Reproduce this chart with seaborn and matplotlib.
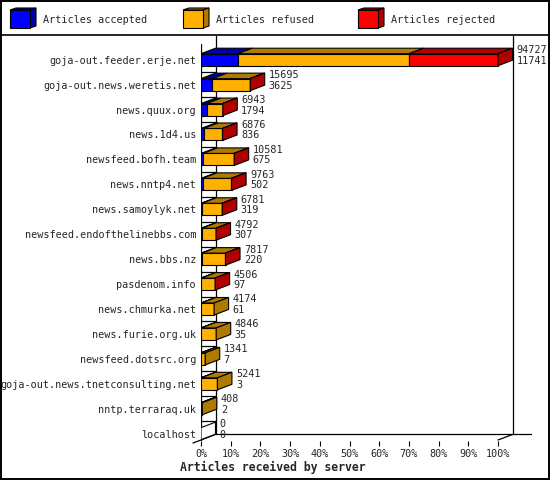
import matplotlib
matplotlib.use("Agg")
import matplotlib.pyplot as plt
from matplotlib.patches import Polygon, Rectangle
from matplotlib.lines import Line2D
import numpy as np
import pandas as pd
import seaborn as sns

# ---------------- data ----------------
servers = [
    "goja-out.feeder.erje.net", "goja-out.news.weretis.net", "news.quux.org",
    "news.1d4.us", "newsfeed.bofh.team", "news.nntp4.net", "news.samoylyk.net",
    "newsfeed.endofthelinebbs.com", "news.bbs.nz", "pasdenom.info",
    "news.chmurka.net", "news.furie.org.uk", "newsfeed.dotsrc.org",
    "goja-out.news.tnetconsulting.net", "nntp.terraraq.uk", "localhost",
]
totals = [94727, 15695, 6943, 6876, 10581, 9763, 6781, 4792, 7817, 4506,
          4174, 4846, 1341, 5241, 408, 0]
accepted = [11741, 3625, 1794, 836, 675, 502, 319, 307, 220, 97,
            61, 35, 7, 3, 2, 0]
refused = [54600, 11950, 5089, 5995, 9826, 9191, 6422, 4450, 7547, 4379,
           4113, 4811, 1334, 5238, 406, 0]
rejected = [28386, 120, 60, 45, 80, 70, 40, 35, 50, 30,
            0, 0, 0, 0, 0, 0]
series_names = ["Articles accepted", "Articles refused", "Articles rejected"]
xtick_labels = ["0%", "10%", "20%", "30%", "40%", "50%", "60%", "70%", "80%", "90%", "100%"]

# ---------------- style ----------------
front_cols = ["#0000FF", "#FFB000", "#FF0000"]
dark_cols = ["#0000A8", "#B07A00", "#B00000"]
MONO = "DejaVu Sans Mono"
FS = 7.3

sns.set_style("white")
plt.rcParams["font.family"] = [MONO, "DejaVu Sans"]

W, Hh = 550, 480
fig = plt.figure(figsize=(W / 100, Hh / 100), dpi=100)
fig.patch.set_facecolor("white")

# axes geometry in pixels
AX_L, AX_R, AX_T, AX_B = 201, 532, 36, 441
ax = fig.add_axes([AX_L / W, 1 - AX_B / Hh, (AX_R - AX_L) / W, (AX_B - AX_T) / Hh])
ax.set_facecolor("none")

PXX = 2.97      # pixels per percent
ROW0 = 59.7     # pixel y of first row
PXY = 24.93     # pixels per row
DX = 14.5 / PXX
DY = -5.5 / PXY
BH = 12 / PXY

maxtot = max(totals)
df = pd.DataFrame({
    "server": servers,
    "acc": np.array(accepted) / maxtot * 100,
    "ref": np.array(refused) / maxtot * 100,
    "rej": np.array(rejected) / maxtot * 100,
})
df["server"] = pd.Categorical(df["server"], categories=servers, ordered=True)

lefts = [np.zeros(len(df)), df["acc"].values, (df["acc"] + df["ref"]).values]
cols = ["acc", "ref", "rej"]
for k, c in enumerate(cols):
    sns.barplot(data=df, y="server", x=c, orient="h", left=lefts[k],
                color=front_cols[k], width=BH, edgecolor="black",
                linewidth=0.8, errorbar=None, ax=ax, zorder=3, saturation=1)

# top faces and side faces
for i in range(len(df)):
    yt = i - BH / 2
    yb = i + BH / 2
    x0 = 0.0
    last = None
    for k, c in enumerate(cols):
        w = df[c].iloc[i]
        x1 = x0 + w
        if w > 0:
            ax.add_patch(Polygon([(x0, yt), (x1, yt), (x1 + DX, yt + DY), (x0 + DX, yt + DY)],
                                 closed=True, facecolor=dark_cols[k], edgecolor="black",
                                 linewidth=0.8, zorder=3))
            last = k
        x0 = x1
    side_col = dark_cols[last] if last is not None else "white"
    ax.add_patch(Polygon([(x0, yt), (x0 + DX, yt + DY), (x0 + DX, yb + DY), (x0, yb)],
                         closed=True, facecolor=side_col, edgecolor="black",
                         linewidth=0.8, zorder=3))
    tx = x0 + DX + 4 / PXX
    ax.text(tx, i - 9.5 / PXY, str(totals[i]), ha="left", va="center",
            fontsize=FS, family=MONO, zorder=5, clip_on=False)
    ax.text(tx, i + 1.0 / PXY, str(accepted[i]), ha="left", va="center",
            fontsize=FS, family=MONO, zorder=5, clip_on=False)

ytop = (AX_T - ROW0) / PXY
ybot = (AX_B - ROW0) / PXY
yfloor = (440 - ROW0) / PXY
ax.set_ylim(ybot, ytop)
ax.set_xlim(0, (AX_R - AX_L) / PXX)

lk = dict(color="black", linewidth=0.9, zorder=2)
# front axis
ax.add_line(Line2D([0, 0], [(44 - ROW0) / PXY, yfloor], **lk))
# back walls
ax.add_line(Line2D([DX, DX], [ytop, yfloor + DY], **lk))
ax.add_line(Line2D([100 + DX, 100 + DX], [ytop, yfloor + DY], **lk))
ax.add_line(Line2D([DX, (AX_R - AX_L) / PXX], [yfloor + DY, yfloor + DY], **lk))
ax.add_line(Line2D([100, 100 + DX], [yfloor, yfloor + DY], **lk))
l = Line2D([-8 / PXX, DX], [yfloor - 8 / 14.5 * DY, yfloor + DY], clip_on=False, **lk)
ax.add_line(l)
# row separators on side wall
for i in range(len(servers) - 1):
    ax.add_line(Line2D([0, DX], [i + 0.5, i + 0.5], **lk))

for s in ax.spines.values():
    s.set_visible(False)
ax.set_xticks(np.arange(0, 101, 10))
ax.set_xticklabels(xtick_labels, fontsize=FS, family=MONO)
ax.set_yticks(range(len(servers)))
ax.set_yticklabels(servers, fontsize=FS, family=MONO)
ax.tick_params(axis="x", direction="out", length=3.6, width=0.8, pad=2, bottom=True, color="black")
ax.tick_params(axis="y", length=0, pad=3.6)
ax.set_xlabel("")
ax.set_ylabel("")
ax.grid(False)

# ---------------- figure decorations ----------------
def fx(x):
    return x / W

def fy(y):
    return 1 - y / Hh

tf = fig.transFigure
legend_x = [10, 183, 358]
for k in range(3):
    x0 = legend_x[k]
    fdx, fdy = 6, 2
    fig.patches.append(Polygon([(fx(x0), fy(10)), (fx(x0 + 20), fy(10)), (fx(x0 + 20 + fdx), fy(10 - fdy)),
                                (fx(x0 + fdx), fy(10 - fdy))], closed=True, transform=tf,
                               facecolor=dark_cols[k], edgecolor="black", linewidth=0.8))
    fig.patches.append(Polygon([(fx(x0 + 20), fy(10)), (fx(x0 + 20 + fdx), fy(10 - fdy)),
                                (fx(x0 + 20 + fdx), fy(28 - fdy)), (fx(x0 + 20), fy(28))], closed=True,
                               transform=tf, facecolor=dark_cols[k], edgecolor="black", linewidth=0.8))
    fig.patches.append(Rectangle((fx(x0), fy(28)), 20 / W, 18 / Hh, transform=tf,
                                 facecolor=front_cols[k], edgecolor="black", linewidth=0.8))
    fig.text(fx(x0 + 33), fy(20), series_names[k], ha="left", va="center",
             fontsize=FS, family=MONO)

fig.add_artist(Line2D([fx(1), fx(549)], [fy(35), fy(35)], transform=tf, color="black", linewidth=1.2))
fig.patches.append(Rectangle((fx(1), fy(478.5)), 547.5 / W, 477.5 / Hh, transform=tf,
                             facecolor="none", edgecolor="black", linewidth=1.4))

fig.text(fx(273), fy(467), "Articles received by server", ha="center", va="center",
         fontsize=8.3, family=MONO, fontweight="bold")

fig.savefig("out.png", dpi=100)
